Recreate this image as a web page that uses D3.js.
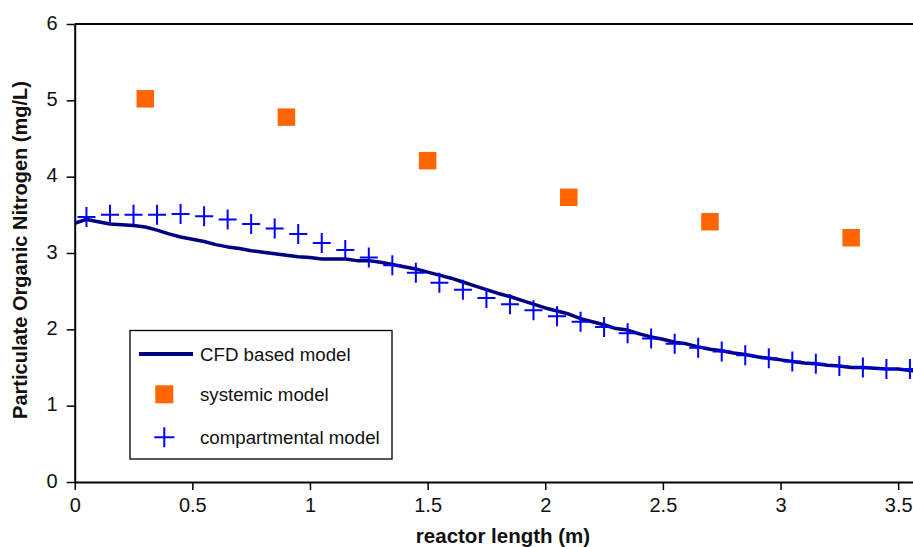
<!DOCTYPE html>
<html>
<head>
<meta charset="utf-8">
<script src="https://cdn.jsdelivr.net/npm/d3@7"></script>
<style>
  body { margin: 0; background: #fff; }
  svg { display: block; font-family: "Liberation Sans", Arial, sans-serif; }
</style>
</head>
<body>
<svg width="913" height="547"></svg>
<script>
"use strict";

// CFD based model (line)
const cfdX = [0, 0.05, 0.1, 0.15, 0.2, 0.25, 0.3, 0.35, 0.4, 0.45, 0.5, 0.55, 0.6, 0.65, 0.7, 0.75, 0.8, 0.85, 0.9, 0.95,
  1.0, 1.05, 1.1, 1.15, 1.2, 1.25, 1.3, 1.35, 1.4, 1.45, 1.5, 1.55, 1.6, 1.65, 1.7, 1.75, 1.8, 1.85, 1.9, 1.95,
  2.0, 2.05, 2.1, 2.15, 2.2, 2.25, 2.3, 2.35, 2.4, 2.45, 2.5, 2.55, 2.6, 2.65, 2.7, 2.75, 2.8, 2.85, 2.9, 2.95,
  3.0, 3.05, 3.1, 3.15, 3.2, 3.25, 3.3, 3.35, 3.4, 3.45, 3.5, 3.55, 3.6];
const cfdY = [3.39, 3.44, 3.41, 3.38, 3.37, 3.36, 3.34, 3.30, 3.25, 3.21, 3.18, 3.15, 3.11, 3.08, 3.06, 3.03, 3.01, 2.99, 2.97, 2.95,
  2.94, 2.92, 2.92, 2.92, 2.90, 2.90, 2.88, 2.85, 2.82, 2.79, 2.75, 2.71, 2.67, 2.62, 2.57, 2.52, 2.47, 2.43, 2.38, 2.33,
  2.28, 2.24, 2.20, 2.14, 2.10, 2.06, 2.01, 1.99, 1.94, 1.90, 1.87, 1.83, 1.81, 1.77, 1.74, 1.72, 1.69, 1.67, 1.64, 1.62,
  1.60, 1.58, 1.56, 1.55, 1.53, 1.52, 1.50, 1.50, 1.49, 1.48, 1.48, 1.46, 1.45];

// systemic model (squares)
const sysX = [0.3, 0.9, 1.5, 2.1, 2.7, 3.3];
const sysY = [5.02, 4.78, 4.21, 3.73, 3.41, 3.20];

// compartmental model (crosses)
const compX = [0.05, 0.15, 0.25, 0.35, 0.45, 0.55, 0.65, 0.75, 0.85, 0.95, 1.05, 1.15, 1.25, 1.35, 1.45, 1.55, 1.65, 1.75,
  1.85, 1.95, 2.05, 2.15, 2.25, 2.35, 2.45, 2.55, 2.65, 2.75, 2.85, 2.95, 3.05, 3.15, 3.25, 3.35, 3.45, 3.55];
const compY = [3.47, 3.50, 3.50, 3.50, 3.51, 3.48, 3.44, 3.38, 3.32, 3.25, 3.13, 3.04, 2.94, 2.84, 2.74, 2.61, 2.52, 2.41,
  2.33, 2.25, 2.17, 2.10, 2.03, 1.95, 1.88, 1.81, 1.76, 1.71, 1.66, 1.62, 1.58, 1.55, 1.52, 1.50, 1.48, 1.48];

const xTicks = [0, 0.5, 1, 1.5, 2, 2.5, 3, 3.5];
const yTicks = [0, 1, 2, 3, 4, 5, 6];
const legendLabels = ["CFD based model", "systemic model", "compartmental model"];

const svg = d3.select("svg");
const plotL = 74.7, plotR = 913, plotT = 24, plotB = 482;
const font = "'Liberation Sans', Arial, sans-serif";

const x = d3.scaleLinear().domain([0, 3.563]).range([plotL, plotR]);
const y = d3.scaleLinear().domain([0, 6]).range([plotB, plotT]);

svg.append("clipPath").attr("id", "plot")
  .append("rect").attr("x", plotL).attr("y", 0).attr("width", plotR - plotL).attr("height", plotB + 1);

// top frame line
svg.append("line")
  .attr("x1", plotL).attr("x2", plotR).attr("y1", plotT).attr("y2", plotT)
  .attr("stroke", "#000").attr("stroke-width", 2);

// axes
const xAxis = svg.append("g")
  .attr("transform", `translate(0,${plotB})`)
  .call(d3.axisBottom(x).tickValues(xTicks).tickSize(8).tickSizeOuter(0).tickPadding(8)
    .tickFormat((d) => String(d)));
const yAxis = svg.append("g")
  .attr("transform", `translate(${plotL},0)`)
  .call(d3.axisLeft(y).tickValues(yTicks).tickSize(8).tickSizeOuter(0).tickPadding(9)
    .tickFormat((d) => String(d)));

[xAxis, yAxis].forEach((a) => {
  a.attr("font-family", font);
  a.select(".domain").attr("stroke", "#000").attr("stroke-width", 2);
  a.selectAll(".tick line").attr("stroke", "#000").attr("stroke-width", 1.5);
  a.selectAll("text").attr("fill", "#111").attr("font-size", 20);
});
yAxis.selectAll("text").attr("dy", "0.25em");

// CFD line
const cfd = cfdX.map((v, i) => [v, cfdY[i]]);
svg.append("path")
  .datum(cfd)
  .attr("clip-path", "url(#plot)")
  .attr("fill", "none")
  .attr("stroke", "#000080")
  .attr("stroke-width", 3.5)
  .attr("stroke-linejoin", "round")
  .attr("d", d3.line().x((d) => x(d[0])).y((d) => y(d[1])));

// systemic squares
const sq = 17.5;
svg.append("g").selectAll("rect")
  .data(sysX.map((v, i) => [v, sysY[i]]))
  .join("rect")
  .attr("x", (d) => x(d[0]) - sq / 2)
  .attr("y", (d) => y(d[1]) - sq / 2)
  .attr("width", sq).attr("height", sq)
  .attr("fill", "#ff6600");

// compartmental crosses
const crossPath = "M-9,0H9M0,-10V10";
svg.append("g").attr("clip-path", "url(#plot)").selectAll("path")
  .data(compX.map((v, i) => [v, compY[i]]))
  .join("path")
  .attr("transform", (d) => `translate(${x(d[0])},${y(d[1])})`)
  .attr("d", crossPath)
  .attr("stroke", "#0000ff")
  .attr("stroke-width", 2)
  .attr("fill", "none");

// legend
const lg = svg.append("g");
lg.append("rect")
  .attr("x", 130).attr("y", 330.5).attr("width", 262).attr("height", 128.5)
  .attr("fill", "#fff").attr("stroke", "#000").attr("stroke-width", 1.3);
lg.append("line")
  .attr("x1", 139).attr("x2", 193).attr("y1", 354).attr("y2", 354)
  .attr("stroke", "#000080").attr("stroke-width", 4);
lg.append("rect")
  .attr("x", 164.3 - 9).attr("y", 394.3 - 9).attr("width", 18).attr("height", 18)
  .attr("fill", "#ff6600");
lg.append("path")
  .attr("transform", "translate(164.3,437.3)")
  .attr("d", "M-10,0H10M0,-10V10")
  .attr("stroke", "#0000ff").attr("stroke-width", 2).attr("fill", "none");
lg.selectAll("text.lab")
  .data(legendLabels)
  .join("text")
  .attr("class", "lab")
  .attr("x", 200)
  .attr("y", (d, i) => [354, 394.3, 437.3][i])
  .attr("dy", "0.35em")
  .attr("fill", "#111")
  .attr("font-family", font)
  .attr("font-size", 18.7)
  .text((d) => d);

// axis titles
svg.append("text")
  .attr("x", 503).attr("y", 543)
  .attr("text-anchor", "middle")
  .attr("font-family", font)
  .attr("font-size", 20.5).attr("font-weight", "bold")
  .attr("fill", "#111")
  .text("reactor length (m)");
svg.append("text")
  .attr("transform", "translate(27,250) rotate(-90)")
  .attr("text-anchor", "middle")
  .attr("font-family", font)
  .attr("font-size", 20).attr("font-weight", "bold")
  .attr("fill", "#111")
  .text("Particulate Organic Nitrogen (mg/L)");
</script>
</body>
</html>
